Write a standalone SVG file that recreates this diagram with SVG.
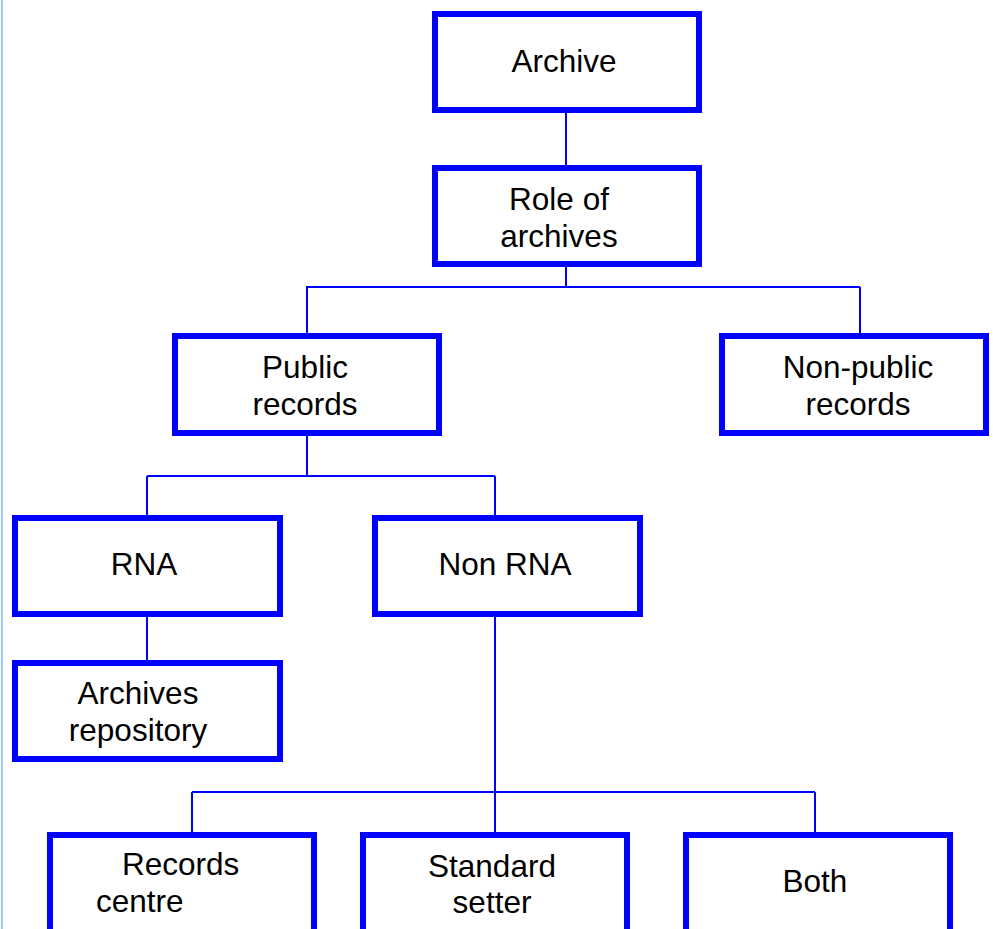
<svg xmlns="http://www.w3.org/2000/svg" width="993" height="929" viewBox="0 0 993 929">
<style>
.box{fill:#fff;stroke:#0000ff;stroke-width:6}
.t{font-family:"Liberation Sans",Arial,sans-serif;font-size:31.5px;fill:#000;text-anchor:middle}
.l{font-family:"Liberation Sans",Arial,sans-serif;font-size:31.5px;fill:#000}
#connectors path{fill:none;stroke:#0000ff;stroke-width:2}
</style>
<rect x="0" y="0" width="993" height="929" fill="#fff"/>
<line x1="2" y1="0" x2="2" y2="929" stroke="#99ccff" stroke-width="2"/>
<g id="connectors">
<path d="M566 113V165"/>
<path d="M566 267V287M306 287H860M307 287V333M860 287V333"/>
<path d="M307 436V476M147 476H495M147 476V515M495 476V515"/>
<path d="M147 617V660"/>
<path d="M495 617V792M192 792H815M192 792V832M495 792V832M815 792V832"/>
</g>
<g id="archive"><rect class="box" x="435" y="14" width="264" height="96"/><text class="t" x="564" y="72">Archive</text></g>
<g id="role"><rect class="box" x="435" y="168" width="264" height="96"/><text class="t" x="559" y="210">Role of</text><text class="t" x="559" y="247">archives</text></g>
<g id="public"><rect class="box" x="175" y="336" width="264" height="97"/><text class="t" x="305" y="378">Public</text><text class="t" x="305" y="415">records</text></g>
<g id="nonpublic"><rect class="box" x="722" y="336" width="264" height="97"/><text class="t" x="858" y="378">Non-public</text><text class="t" x="858" y="415">records</text></g>
<g id="rna"><rect class="box" x="15" y="518" width="265" height="96"/><text class="t" x="144" y="575">RNA</text></g>
<g id="nonrna"><rect class="box" x="375" y="518" width="265" height="96"/><text class="t" x="505" y="575">Non RNA</text></g>
<g id="repository"><rect class="box" x="15" y="663" width="265" height="96"/><text class="t" x="138" y="704">Archives</text><text class="t" x="138" y="741">repository</text></g>
<g id="recordscentre"><rect class="box" x="50" y="835" width="264" height="110"/><text class="l" x="122" y="875">Records</text><text class="l" x="96" y="912">centre</text></g>
<g id="standard"><rect class="box" x="363" y="835" width="264" height="110"/><text class="t" x="492" y="877">Standard</text><text class="t" x="492" y="913">setter</text></g>
<g id="both"><rect class="box" x="686" y="835" width="264" height="110"/><text class="t" x="815" y="892">Both</text></g>
</svg>
